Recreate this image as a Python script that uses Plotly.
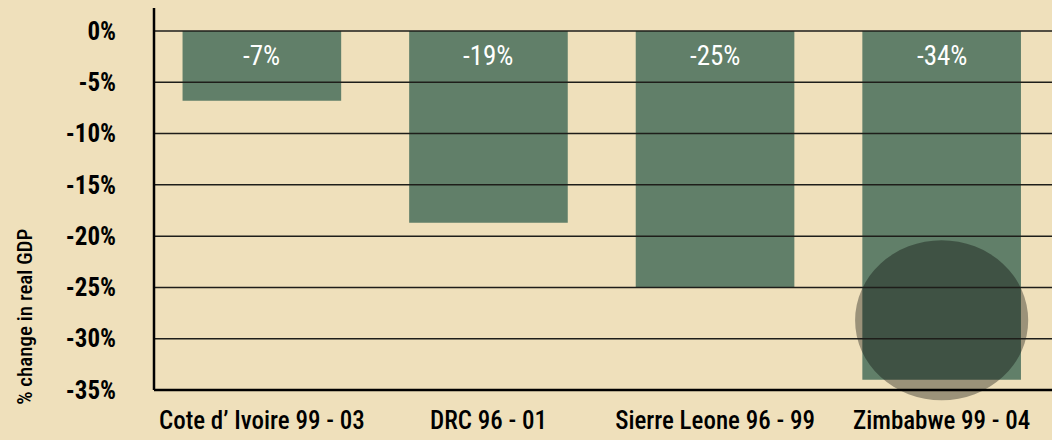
import plotly.graph_objects as go

# ---- data ----
categories = ["Cote d’ Ivoire 99 - 03", "DRC 96 - 01", "Sierre Leone 96 - 99", "Zimbabwe 99 - 04"]
values = [-6.8, -18.7, -25.0, -34.0]
bar_labels = ["-7%", "-19%", "-25%", "-34%"]
tick_vals = [0, -5, -10, -15, -20, -25, -30, -35]
tick_text = ["0%", "-5%", "-10%", "-15%", "-20%", "-25%", "-30%", "-35%"]
y_title = "% change in real GDP"
highlight_index = 3

# ---- style ----
BG = "#efe0bb"
BAR = "#617f69"
FONT = "Roboto Condensed, Open Sans Condensed, sans-serif"
Y_MIN, Y_MAX = -36.07, 2.24
X_MIN, X_MAX = -0.476, 3.487

fig = go.Figure(
    go.Bar(
        x=list(range(len(categories))),
        y=values,
        width=0.7,
        marker=dict(color=BAR, line=dict(width=0)),
        hoverinfo="skip",
    )
)

shapes = []
# highlight ellipse
shapes.append(dict(
    type="circle", xref="x", yref="y", layer="above",
    x0=highlight_index - 0.382, x1=highlight_index + 0.382,
    y0=-36.0, y1=-20.4,
    fillcolor="rgba(0,0,0,0.35)", line=dict(width=0),
))
# gridlines over bars
for v in tick_vals[:-1]:
    shapes.append(dict(
        type="line", xref="paper", yref="y", layer="above",
        x0=0, x1=1, y0=v, y1=v,
        line=dict(color="#1e1e1a", width=1.5),
    ))
# x axis line at the bottom tick
shapes.append(dict(
    type="line", xref="paper", yref="y", layer="above",
    x0=0, x1=1, y0=tick_vals[-1], y1=tick_vals[-1],
    line=dict(color="#000000", width=2.5),
))
# y axis line
shapes.append(dict(
    type="line", xref="paper", yref="y", layer="above",
    x0=0, x1=0, y0=tick_vals[-1], y1=Y_MAX,
    line=dict(color="#000000", width=2.5),
))

annotations = []
for i, lab in enumerate(bar_labels):
    annotations.append(dict(
        x=i, y=0, xref="x", yref="y", text=lab, showarrow=False,
        yanchor="top", yshift=-7,
        font=dict(family=FONT, size=27, color="#ffffff", weight="normal"),
    ))
annotations.append(dict(
    x=-0.1437, y=0.214, xref="paper", yref="paper", text=y_title,
    showarrow=False, textangle=-90, xanchor="center", yanchor="middle",
    font=dict(family=FONT, size=21, color="#000000", weight=500),
))

fig.update_layout(
    width=1052, height=440,
    margin=dict(l=154, r=0, t=8, b=39),
    paper_bgcolor=BG, plot_bgcolor=BG,
    showlegend=False,
    shapes=shapes,
    annotations=annotations,
    xaxis=dict(
        range=[X_MIN, X_MAX],
        tickvals=list(range(len(categories))), ticktext=categories,
        showgrid=False, zeroline=False, showline=False, ticks="",
        tickfont=dict(family=FONT, size=25, color="#000000", weight=500),
        ticklabelstandoff=2, ticklabeloverflow="allow",
    ),
    yaxis=dict(
        range=[Y_MIN, Y_MAX],
        tickvals=tick_vals, ticktext=tick_text,
        showgrid=False, zeroline=False, showline=False, ticks="",
        tickfont=dict(family=FONT, size=25, color="#000000", weight="bold"),
        ticklabelstandoff=37,
    ),
)

fig.write_html("out.html", post_script="document.body.style.margin='0';",
               config={"displayModeBar": False})
